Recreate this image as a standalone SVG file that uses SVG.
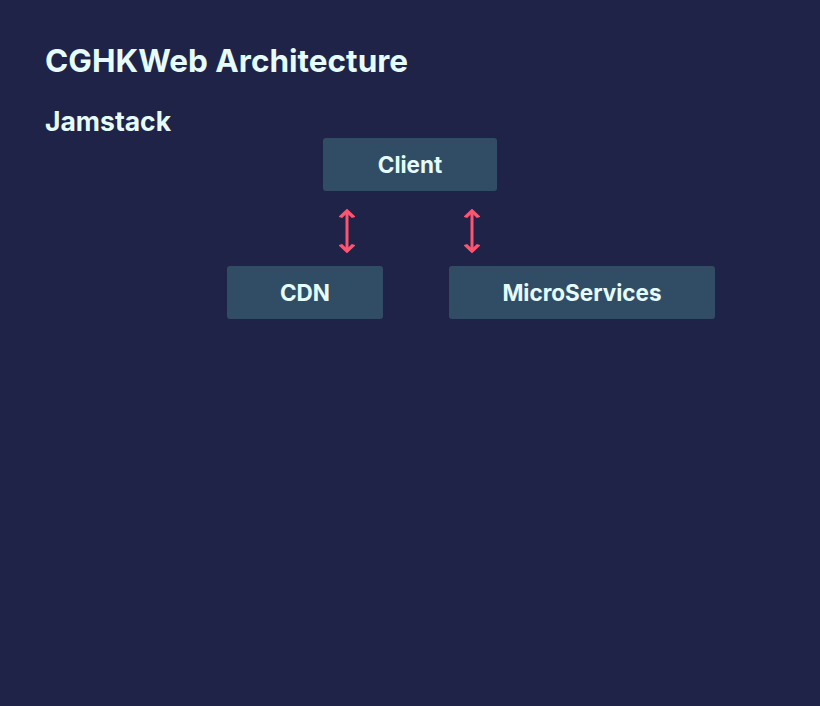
<svg xmlns="http://www.w3.org/2000/svg" width="820" height="706" viewBox="0 0 820 706">
<style>
.t{font-family:Inter,"Noto Sans",sans-serif;font-weight:700;fill:#e6fbfb}
.box{fill:#314d66}
.lbl{font-family:Inter,"Noto Sans",sans-serif;font-weight:700;font-size:22.5px;fill:#e6fbfb;text-anchor:middle}
.c{stroke:#ff5470;stroke-width:3;fill:none}
</style>
<defs>
<marker id="ah" viewBox="0 0 10 10" refX="8" refY="5" markerWidth="3" markerHeight="5.6" orient="auto-start-reverse" markerUnits="strokeWidth" preserveAspectRatio="none">
<path d="M1,1 L8,5 L1,9" fill="none" stroke="#ff5470" stroke-width="2.6"/>
</marker>
</defs>
<rect width="820" height="706" fill="#1e2347"/>
<text class="t" x="45" y="72" font-size="31.5">CGHKWeb Architecture</text>
<text class="t" x="45" y="131" font-size="26.5">Jamstack</text>
<g id="client"><rect class="box" x="323" y="138" width="174" height="53" rx="3"/><text class="lbl" x="410" y="173">Client</text></g>
<g id="cdn"><rect class="box" x="227" y="266" width="156" height="53" rx="3"/><text class="lbl" x="305" y="301">CDN</text></g>
<g id="microservices"><rect class="box" x="449" y="266" width="266" height="53" rx="3"/><text class="lbl" x="582" y="301">MicroServices</text></g>
<g id="connectors">
<line class="c" x1="347" y1="211" x2="347" y2="251" marker-start="url(#ah)" marker-end="url(#ah)"/>
<line class="c" x1="472" y1="211" x2="472" y2="251" marker-start="url(#ah)" marker-end="url(#ah)"/>
</g>
</svg>
